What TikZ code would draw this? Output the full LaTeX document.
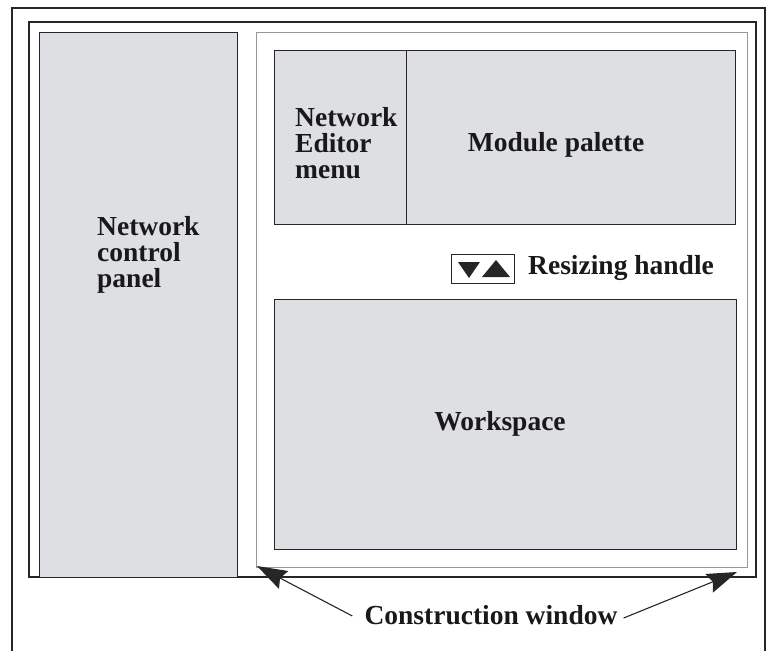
\documentclass[tikz,border=0pt]{standalone}
\usepackage{fontspec}
\setmainfont{Liberation Serif}
\usetikzlibrary{arrows.meta}
\definecolor{panelgray}{RGB}{221,223,227}
\definecolor{framegray}{RGB}{150,150,150}
\tikzset{
  panel/.style={draw=black!85, line width=1.4pt, fill=panelgray, anchor=north west, inner sep=0pt},
  frameline/.style={draw=black!85, line width=1.3pt},
  label/.style={font=\bfseries\fontsize{27.5}{26}\selectfont, text=black!90, inner sep=0pt},
  callout/.style={line width=1.1pt, draw=black!85, -{Stealth[length=30pt,width=20pt,inset=4pt]}},
  tri/.style={fill=black!85, draw=none},
}
\begin{document}
\begin{tikzpicture}[x=1pt, y=-1pt]
\useasboundingbox (0,0) rectangle (768,651);

% outer page frame, open at the bottom
\draw[frameline] (12,651) -- (12,8) -- (765,8) -- (765,651);
% main window frame
\draw[frameline] (29,22) rectangle (756,577);

% network control panel
\node[panel, minimum width=198pt, minimum height=545pt] (ncp) at (39,32) {};
\node[label, align=left, anchor=west] (ncptext) at (97,255) {Network\\control\\panel};

% construction window
\node[draw=framegray, line width=1.1pt, anchor=north west, inner sep=0pt,
      minimum width=491pt, minimum height=535pt] (cwin) at (256,32) {};

% editor menu and module palette
\node[panel, minimum width=132pt, minimum height=174pt] (menu) at (274,50) {};
\node[panel, minimum width=329pt, minimum height=174pt] (palette) at (406,50) {};
\node[label, align=left, anchor=west] (menutext) at (295,143) {Network\\Editor\\menu};
\node[label] (palettetext) at (556,145) {Module palette};

% resizing handle
\node[draw=black!85, line width=1.2pt, anchor=north west, inner sep=0pt,
      minimum width=63pt, minimum height=29pt] (handle) at (451,254) {};
\fill[tri] (458,262) -- (480,262) -- (469,278) -- cycle;
\fill[tri] (482,277) -- (510,277) -- (496,260) -- cycle;
\node[label, anchor=west] (handletext) at (528,268) {Resizing handle};

% workspace
\node[panel, minimum width=462pt, minimum height=250pt] (work) at (274,299) {};
\node[label] (worktext) at (500,424) {Workspace};

% caption and callouts
\node[label] (cw) at (491,615) {Construction window};
\coordinate (tipL) at (257,566);
\coordinate (tipR) at (737,572);
\draw[callout] ([xshift=-12pt,yshift=-1pt]cw.west) -- (tipL);
\draw[callout] ([xshift=6pt,yshift=-3pt]cw.east) -- (tipR);
\end{tikzpicture}
\end{document}
